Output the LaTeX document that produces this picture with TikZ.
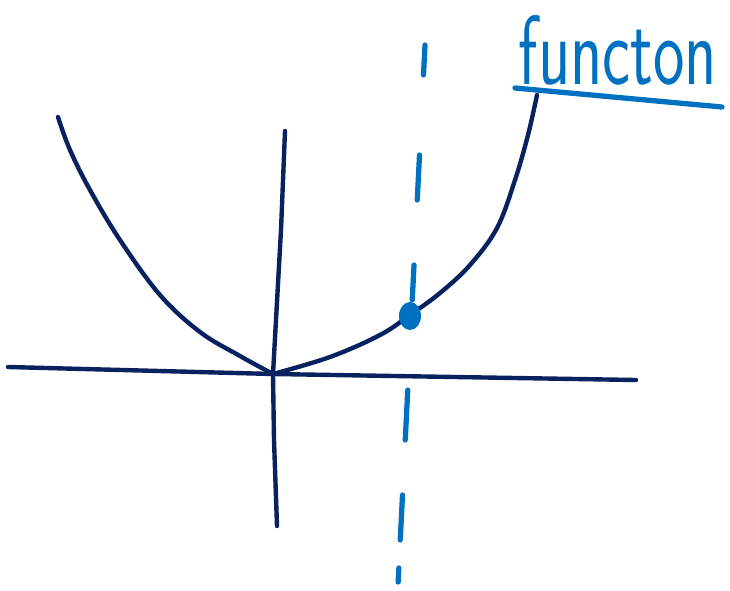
\documentclass[tikz,border=0pt]{standalone}
\usepackage{amsmath,amssymb}
\usepackage[dvipsnames]{xcolor}
\usepackage{tikz}
\definecolor{inknavy}{RGB}{8,34,96}
\definecolor{inkblue}{RGB}{0,112,192}

\begin{document}
\begin{tikzpicture}[x=0.02cm,y=-0.02cm,line cap=round,line join=round]
  \useasboundingbox (0,0) rectangle (730,591);
  \tikzset{pen/.style={inknavy,line width=2.5pt},
    marker/.style={inkblue,line width=3pt}}
  % axes
  \coordinate (o) at (273,374);
  \draw[pen] (8,367) -- (o) -- (636,380);
  \draw[pen] (285,131) -- (281,230) -- (o) -- (274,440) -- (277,526);
  % the curve
  \draw[pen] plot[smooth,tension=0.6]
    coordinates {(58,117) (70,150) (90,190) (120,240) (160,295) (200,332) (240,356) (o)};
  \draw[pen] plot[smooth,tension=0.6]
    coordinates {(o) (330,357) (380,335) (410,315) (440,293) (470,265) (497,228) (515,180) (528,135) (537,95)};
  % vertical line through the point
  \foreach \a/\b in {45/75,155/200,265/300,390/440,495/540,568/582}
    \draw[marker] ({425-(\a-45)*0.05},\a) -- ({425-(\b-45)*0.05},\b);
  \coordinate (p) at (410,316);
  \fill[inkblue] (p) ellipse[x radius=11,y radius=14];
  % label
  \node[inkblue,font=\fontsize{40}{40}\sffamily,xscale=0.95,yscale=1.4] (lbl) at (618,50) {functon};
  \draw[marker] (515,88) -- (722,107);
\end{tikzpicture}
\end{document}
